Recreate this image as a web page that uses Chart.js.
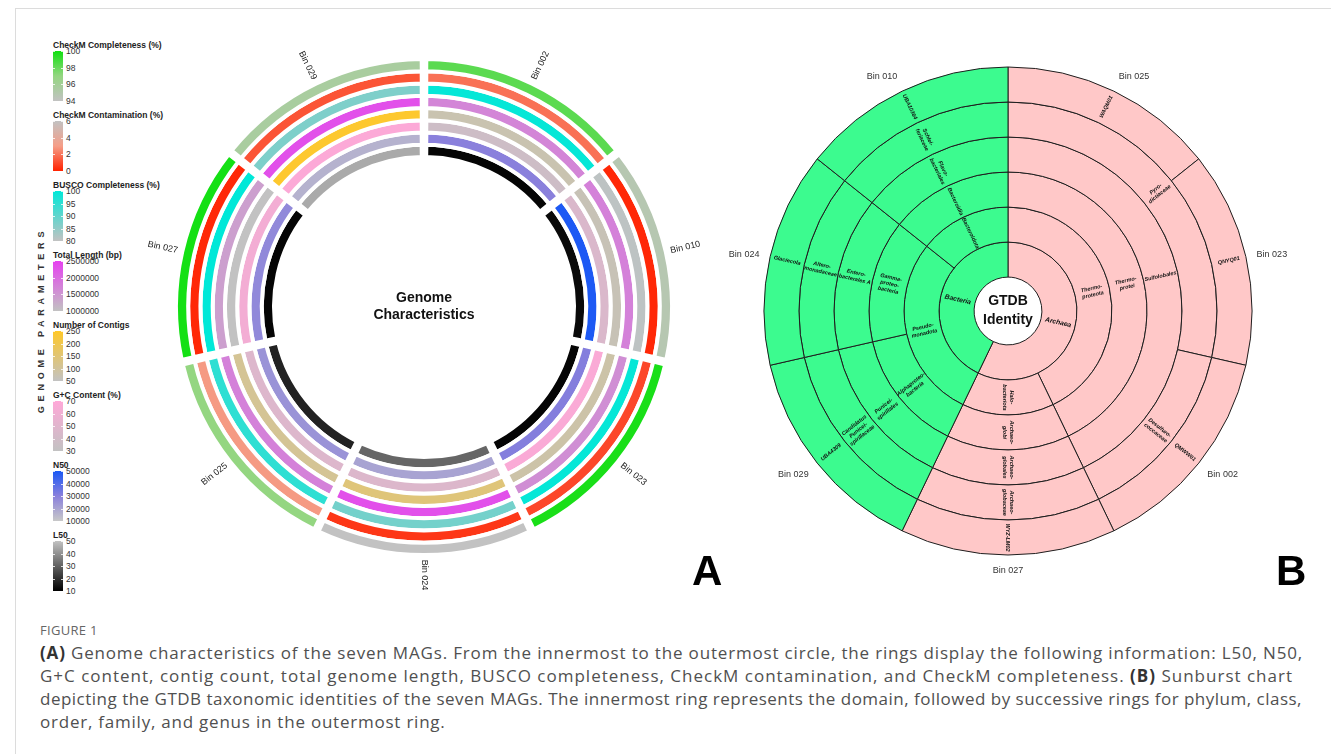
<!DOCTYPE html>
<html>
<head>
<meta charset="utf-8">
<script src="https://cdn.jsdelivr.net/npm/chart.js@4.4.0/dist/chart.umd.min.js"></script>
<style>
  html, body { margin: 0; padding: 0; background: #fff; }
  body { width: 1331px; height: 754px; position: relative; overflow: hidden; font-family: Arial, "Liberation Sans", sans-serif; }
  #frame { position: absolute; left: 15px; top: 8px; right: -2px; bottom: -2px; border-top: 1px solid #dcdcdc; border-left: 1px solid #dcdcdc; }
  canvas { position: absolute; }
  #chartA { left: 124px; top: 7px; }
  #chartB { left: 708px; top: 11px; }
  #legend { position: absolute; left: 0; top: 0; }
  .lg-title { position: absolute; left: 53px; font-size: 8.5px; font-weight: bold; color: #222; white-space: nowrap; transform: translateY(-50%); }
  .lg-bar { position: absolute; left: 53px; width: 10px; height: 50px; }
  .lg-tick { position: absolute; left: 66px; font-size: 8.5px; color: #333; transform: translateY(-50%); white-space: nowrap; }
  .lg-dash { position: absolute; width: 2px; height: 1px; background: rgba(255,255,255,0.8); }
  #vtitle { position: absolute; left: 41px; top: 320px; transform: translate(-50%, -50%) rotate(-90deg); font-size: 9px; font-weight: bold; letter-spacing: 4.8px; color: #333; white-space: nowrap; }
  .panel { position: absolute; font-size: 42px; font-weight: bold; color: #000; line-height: 1; }
  #capFig { position: absolute; left: 40px; top: 621px; font-family: "Open Sans", sans-serif; font-size: 13px; color: #666; letter-spacing: 0.3px; }
  #caption { position: absolute; left: 40px; top: 641px; font-family: "Open Sans", sans-serif; font-size: 17px; line-height: 23px; color: #505050; }
  #caption div { white-space: nowrap; }
  #caption span { display: inline-block; }
  #caption b { color: #333; }
</style>
</head>
<body>
<div id="frame"></div>
<div id="legend"></div>
<div id="vtitle">GENOME PARAMETERS</div>
<canvas id="chartA" width="600" height="600"></canvas>
<canvas id="chartB" width="600" height="600"></canvas>
<div class="panel" style="left:692px; top:550px;">A</div>
<div class="panel" style="left:1276px; top:550px;">B</div>
<div id="capFig">FIGURE 1</div>
<div id="caption">
  <div><span data-w="1263"><b>(A)</b> Genome characteristics of the seven MAGs. From the innermost to the outermost circle, the rings display the following information: L50, N50,</span></div>
  <div><span data-w="1253">G+C content, contig count, total genome length, BUSCO completeness, CheckM contamination, and CheckM completeness. <b>(B)</b> Sunburst chart</span></div>
  <div><span data-w="1262">depicting the GTDB taxonomic identities of the seven MAGs. The innermost ring represents the domain, followed by successive rings for phylum, class,</span></div>
  <div><span>order, family, and genus in the outermost ring.</span></div>
</div>
<script>
// ---- panel A: genome characteristics per bin (clockwise from top) ----
const binsA = ["Bin 002", "Bin 010", "Bin 023", "Bin 024", "Bin 025", "Bin 027", "Bin 029"];
const checkmCompleteness  = [98.3, 94.8, 99.8, 94.0, 97.0, 99.9, 95.6];
const checkmContamination = [1.9, 0.15, 0.9, 0.5, 2.9, 0.15, 1.2];
const buscoCompleteness   = [99.5, 80.5, 99.5, 88, 95.3, 100, 87];
const totalLength         = [1700000, 1750000, 1600000, 2320000, 1750000, 1400000, 2320000];
const contigCount         = [73, 66, 84, 145, 108, 50, 242];
const gcContent           = [37.5, 46, 67, 47, 47.6, 62, 68];
const n50                 = [30000, 49500, 31000, 20300, 24800, 27600, 16000];
const l50                 = [11, 12, 11, 31, 17, 11, 45];

// legend tick labels
const ticksCompleteness   = [100, 98, 96, 94];
const ticksContamination  = [6, 4, 2, 0];
const ticksBusco          = [100, 95, 90, 85, 80];
const ticksLength         = [2500000, 2000000, 1500000, 1000000];
const ticksContigs        = [250, 200, 150, 100, 50];
const ticksGC             = [70, 60, 50, 40, 30];
const ticksN50            = [50000, 40000, 30000, 20000, 10000];
const ticksL50            = [50, 40, 30, 20, 10];

// ---- panel B: GTDB taxonomy, clockwise from top ----
const binsB = ["Bin 025", "Bin 023", "Bin 002", "Bin 027", "Bin 029", "Bin 024", "Bin 010"];
const domainNames = ["Archaea", "Bacteria"];
const domainSizes = [4, 3];
const phylumNames = ["Thermo-\nproteota", "Halo-\nbacteriota", "Pseudo-\nmonadota", "Bacteroidota"];
const phylumSizes = [3, 1, 2, 1];
const classNames = ["Thermo-\nprotei", "Archaeo-\nglobi", "Alphaproteo-\nbacteria", "Gamma-\nproteo-\nbacteria", "Bacteroidia"];
const classSizes = [3, 1, 1, 1, 1];
const orderNames = ["Sulfolobales", "Archaeo-\nglobales", "Punicei-\nspirillales", "Entero-\nbacterales A", "Flavo-\nbacteriales"];
const orderSizes = [3, 1, 1, 1, 1];
const familyNames = ["Pyro-\ndictiaceae", "Desulfuro-\ncoccaceae", "Archaeo-\nglobaceae", "Candidatus\nPunicei-\nspirillaceae", "Altero-\nmonadaceae", "Schlei-\nferiaceae"];
const familySizes = [2, 1, 1, 1, 1, 1];
const genusNames = ["WAQM01", "QNYQ01", "QMWW01", "WYZ-LM02", "UBA4309", "Glaciecola", "UBA10364"];
const genusSizes = [1, 1, 1, 1, 1, 1, 1];

// colour ramps
const GREY = "#c2c2c2";
const rings = [ // outermost first (Chart.js draws dataset 0 outside)
  { title: "CheckM Completeness (%)",  values: checkmCompleteness,  ticks: ticksCompleteness,  stops: [[94, GREY], [97, "#94d681"], [100, "#10e010"]] },
  { title: "CheckM Contamination (%)", values: checkmContamination, ticks: ticksContamination, stops: [[0, "#ff2200"], [3, "#f59e88"], [6, GREY]] },
  { title: "BUSCO Completeness (%)",   values: buscoCompleteness,   ticks: ticksBusco,         stops: [[80, GREY], [100, "#00e8d8"]] },
  { title: "Total Length (bp)",        values: totalLength,         ticks: ticksLength,        stops: [[1000000, GREY], [2500000, "#e640f0"]] },
  { title: "Number of Contigs",        values: contigCount,         ticks: ticksContigs,       stops: [[50, GREY], [250, "#ffc828"]] },
  { title: "G+C Content (%)",          values: gcContent,           ticks: ticksGC,            stops: [[30, GREY], [70, "#ffa8d8"]] },
  { title: "N50",                      values: n50,                 ticks: ticksN50,           stops: [[10000, "#c8c8c8"], [30000, "#8a80dc"], [50000, "#1a58f5"]] },
  { title: "L50",                      values: l50,                 ticks: ticksL50,           stops: [[10, "#000000"], [50, GREY]] },
];

function hexRgb(h) {
  const n = parseInt(h.slice(1), 16);
  return [(n >> 16) & 255, (n >> 8) & 255, n & 255];
}
function rampColor(stops, v) {
  if (v <= stops[0][0]) return stops[0][1];
  for (let i = 1; i < stops.length; i++) {
    if (v <= stops[i][0]) {
      const t = (v - stops[i - 1][0]) / (stops[i][0] - stops[i - 1][0]);
      const a = hexRgb(stops[i - 1][1]), b = hexRgb(stops[i][1]);
      return "rgb(" + a.map((c, k) => Math.round(c + (b[k] - c) * t)).join(",") + ")";
    }
  }
  return stops[stops.length - 1][1];
}

// legend (HTML colour bars)
const legend = document.getElementById("legend");
rings.forEach((ring, i) => {
  const top = 45 + 70 * i;
  const lo = Math.min(...ring.ticks), hi = Math.max(...ring.ticks);
  const grad = ring.stops.map(([v, c]) => c + " " + ((v - lo) / (hi - lo) * 100).toFixed(1) + "%").join(", ");
  let html = `<div class="lg-title" style="top:${top}px">${ring.title}</div>`;
  html += `<div class="lg-bar" style="top:${top + 6}px; background:linear-gradient(to top, ${grad})"></div>`;
  ring.ticks.forEach(t => {
    const y = top + 6 + (hi - t) / (hi - lo) * 50;
    html += `<div class="lg-tick" style="top:${y}px">${t}</div>`;
    html += `<div class="lg-dash" style="left:53px; top:${y}px"></div><div class="lg-dash" style="left:61px; top:${y}px"></div>`;
  });
  legend.insertAdjacentHTML("beforeend", html);
});

// stretch caption lines to the widths of the printed figure
let spacingSum = 0, spacingN = 0;
document.querySelectorAll("#caption span[data-w]").forEach(sp => {
  const natural = sp.getBoundingClientRect().width;
  const ls = (+sp.dataset.w - natural) / sp.textContent.length;
  sp.style.letterSpacing = ls + "px";
  spacingSum += ls; spacingN++;
});
document.querySelector("#caption div:last-child span").style.letterSpacing = (spacingSum / spacingN) + "px";

// keeps radial text upright on the left half
function radialRotation(angle) {
  return Math.cos(angle) < -1e-6 ? angle + Math.PI : angle;
}

function centerText(lines, size, gap) {
  return {
    id: "centerText",
    afterDatasetsDraw(chart) {
      const arc = chart.getDatasetMeta(0).data[0];
      const ctx = chart.ctx;
      ctx.save();
      ctx.font = `bold ${size}px Arial`;
      ctx.fillStyle = "#111";
      ctx.textAlign = "center";
      ctx.textBaseline = "middle";
      lines.forEach((ln, k) => ctx.fillText(ln, arc.x, arc.y + (k - (lines.length - 1) / 2) * gap));
      ctx.restore();
    }
  };
}

const binLabelsA = {
  id: "binLabelsA",
  afterDatasetsDraw(chart) {
    const ctx = chart.ctx;
    ctx.save();
    ctx.font = "9px Arial";
    ctx.fillStyle = "#222";
    ctx.textAlign = "center";
    ctx.textBaseline = "middle";
    chart.getDatasetMeta(0).data.forEach((arc, i) => {
      const mid = (arc.startAngle + arc.endAngle) / 2;
      const r = arc.outerRadius + 25;
      ctx.save();
      ctx.translate(arc.x + Math.cos(mid) * r, arc.y + Math.sin(mid) * r);
      ctx.rotate(radialRotation(mid));
      ctx.fillText(binsA[i], 0, 0);
      ctx.restore();
    });
    ctx.restore();
  }
};

new Chart(document.getElementById("chartA"), {
  type: "doughnut",
  data: {
    labels: binsA,
    datasets: rings.map(ring => ({
      label: ring.title,
      data: binsA.map(() => 1),
      backgroundColor: ring.values.map(v => rampColor(ring.stops, v)),
      borderColor: "#ffffff",
      borderWidth: 4,
      spacing: 10,
    })),
  },
  options: {
    responsive: false,
    animation: false,
    events: [],
    radius: 243,
    cutout: "59.67%",
    spacing: 10,
    plugins: { legend: { display: false }, tooltip: { enabled: false } },
  },
  plugins: [binLabelsA, centerText(["Genome", "Characteristics"], 14, 17)],
});

// ---- sunburst ----
const ARCHAEA = "#ffc8c8", BACTERIA = "#3cfb8f";
const levels = [ // outer → inner
  { names: genusNames,  sizes: genusSizes,  font: 5.5 },
  { names: familyNames, sizes: familySizes, font: 5.5 },
  { names: orderNames,  sizes: orderSizes,  font: 5.5 },
  { names: classNames,  sizes: classSizes,  font: 5.5 },
  { names: phylumNames, sizes: phylumSizes, font: 5.5 },
  { names: domainNames, sizes: domainSizes, font: 6.8 },
];
function domainColors(sizes) {
  let pos = 0;
  return sizes.map(s => { const c = pos < domainSizes[0] ? ARCHAEA : BACTERIA; pos += s; return c; });
}

const sunburstLabels = {
  id: "sunburstLabels",
  afterDatasetsDraw(chart) {
    const ctx = chart.ctx;
    ctx.save();
    ctx.fillStyle = "#111";
    ctx.textAlign = "center";
    ctx.textBaseline = "middle";
    levels.forEach((lvl, d) => {
      ctx.font = `italic bold ${lvl.font}px Arial`;
      chart.getDatasetMeta(d).data.forEach((arc, i) => {
        const lines = lvl.names[i].split("\n");
        const mid = (arc.startAngle + arc.endAngle) / 2;
        const r = (arc.innerRadius + arc.outerRadius) / 2;
        ctx.save();
        ctx.translate(arc.x + Math.cos(mid) * r, arc.y + Math.sin(mid) * r);
        ctx.rotate(radialRotation(mid));
        lines.forEach((ln, k) => ctx.fillText(ln, 0, (k - (lines.length - 1) / 2) * (lvl.font + 1)));
        ctx.restore();
      });
    });
    ctx.restore();
  }
};

const binLabelsB = {
  id: "binLabelsB",
  afterDatasetsDraw(chart) {
    const ctx = chart.ctx;
    ctx.save();
    ctx.font = "9px Arial";
    ctx.fillStyle = "#333";
    chart.getDatasetMeta(0).data.forEach((arc, i) => {
      const mid = (arc.startAngle + arc.endAngle) / 2;
      const r = arc.outerRadius + 11;
      const c = Math.cos(mid), s = Math.sin(mid);
      ctx.textAlign = c > 0.3 ? "left" : c < -0.3 ? "right" : "center";
      ctx.textBaseline = s > 0.3 ? "top" : s < -0.3 ? "bottom" : "middle";
      ctx.fillText(binsB[i], arc.x + c * r, arc.y + s * r);
    });
    ctx.restore();
  }
};

new Chart(document.getElementById("chartB"), {
  type: "doughnut",
  data: {
    labels: binsB,
    datasets: levels.map(lvl => ({
      data: lvl.sizes,
      backgroundColor: domainColors(lvl.sizes),
      borderColor: "#1e1e1e",
      borderWidth: 1,
    })),
  },
  options: {
    responsive: false,
    animation: false,
    events: [],
    radius: 244,
    cutout: "13.9%",
    plugins: { legend: { display: false }, tooltip: { enabled: false } },
  },
  plugins: [sunburstLabels, binLabelsB, centerText(["GTDB", "Identity"], 14, 19)],
});
</script>
</body>
</html>
